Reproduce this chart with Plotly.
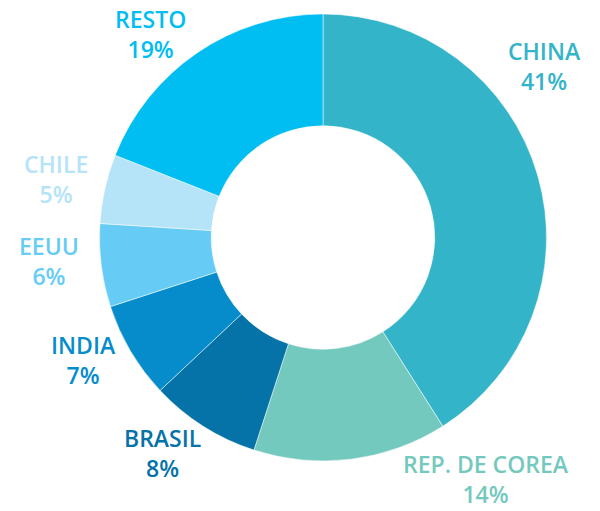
import plotly.graph_objects as go

labels = ["CHINA", "REP. DE COREA", "BRASIL", "INDIA", "EEUU", "CHILE", "RESTO"]
values = [41, 14, 8, 7, 6, 5, 19]
colors = ["#34B4C8", "#74C9BE", "#0572A8", "#068CCB", "#66CCF6", "#B5E3F8", "#00BDF2"]

# label block centers in pixels (x, y from top)
label_pos = [(544, 66), (486, 479), (162, 453), (83, 360), (49, 261), (56, 179), (150, 34)]

W, H = 600, 511

fig = go.Figure(go.Pie(
    labels=labels,
    values=values,
    hole=0.5,
    sort=False,
    direction="clockwise",
    rotation=0,
    marker=dict(colors=colors, line=dict(color="white", width=0.5)),
    textinfo="none",
    hoverinfo="label+percent",
    domain=dict(x=[99 / W, 547 / W], y=[1 - 461 / H, 1 - 14 / H]),
    showlegend=False,
))

for lab, val, col, (px, py) in zip(labels, values, colors, label_pos):
    fig.add_annotation(
        x=px / W, y=1 - py / H, xref="paper", yref="paper",
        text=f"{lab}<br>{val}%", showarrow=False,
        xanchor="center", yanchor="middle", align="center",
        font=dict(family="Open Sans", size=23, color=col, weight=600),
    )

fig.update_layout(
    width=W, height=H,
    margin=dict(l=0, r=0, t=0, b=0),
    paper_bgcolor="white", plot_bgcolor="white",
)

fig.write_html("out.html", config={"displayModeBar": False},
               post_script="document.body.style.margin='0';")
